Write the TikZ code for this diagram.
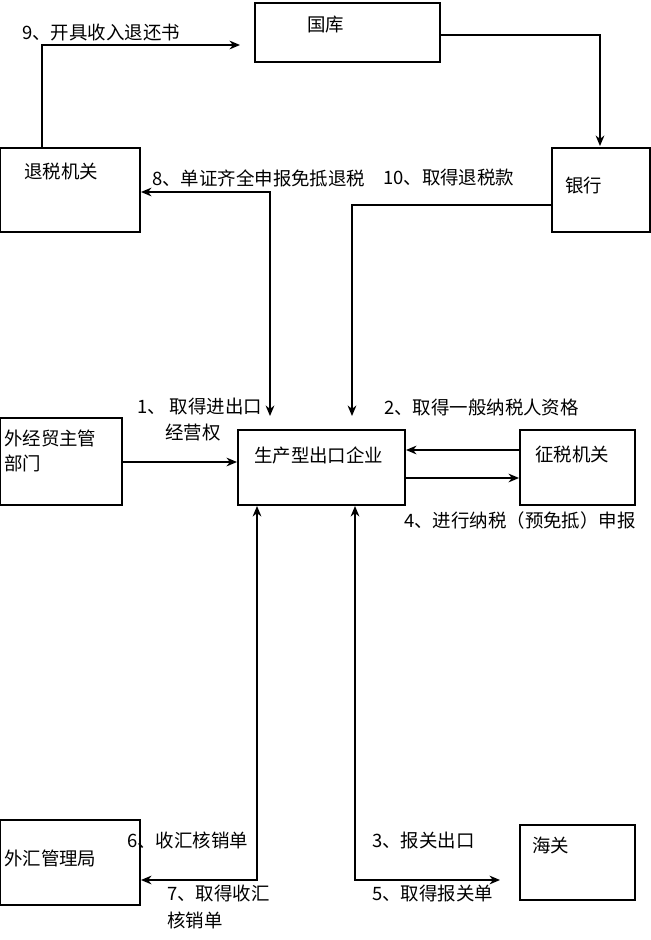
\documentclass[tikz,border=0pt]{standalone}
\usepackage{fontspec}
\setmainfont{Noto Sans CJK SC}
\usetikzlibrary{arrows.meta}
\begin{document}
\begin{tikzpicture}[x=0.02cm,y=-0.02cm,font=\fontsize{10.5}{14}\selectfont,
	box/.style={draw,line width=0.8pt},
	flow/.style={draw,line width=0.8pt,-{Stealth[length=6pt,width=5pt]}},
	both/.style={flow,{Stealth[length=6pt,width=5pt]}-{Stealth[length=6pt,width=5pt]}},
	txt/.style={inner sep=1pt,anchor=west}]
	\useasboundingbox (0,0) rectangle (650,940);
	% boxes
	\draw[box] (255,3) rectangle (440,62);
	\node[txt] (guoku) at (305,25) {国库};
	\draw[box] (0,148) rectangle (140,232);
	\node[txt] (tuishui) at (22,172) {退税机关};
	\draw[box] (552,148) rectangle (650,232);
	\node[txt] (yinhang) at (563,186) {银行};
	\draw[box] (0,418) rectangle (122,505);
	\node[txt,align=left,anchor=north west] (waijing) at (2,428) {外经贸主管\\部门};
	\draw[box] (238,430) rectangle (405,505);
	\node[txt] (qiye) at (252,455) {生产型出口企业};
	\draw[box] (520,430) rectangle (635,505);
	\node[txt] (zhengshui) at (533,455) {征税机关};
	\draw[box] (0,820) rectangle (140,905);
	\node[txt] (waihui) at (2,858) {外汇管理局};
	\draw[box] (520,825) rectangle (635,900);
	\node[txt] (haiguan) at (530,845) {海关};
	% connectors
	\coordinate (a1) at (42,148);
	\coordinate (a2) at (240,45);
	\draw[flow] (a1) |- (a2);
	\coordinate (b1) at (440,35);
	\coordinate (b2) at (600,146);
	\draw[flow] (b1) -| (b2);
	\coordinate (c1) at (552,205);
	\coordinate (c2) at (352,416);
	\draw[flow] (c1) -| (c2);
	\coordinate (d1) at (141,192);
	\coordinate (d2) at (270,416);
	\draw[both] (d1) -| (d2);
	\coordinate (e1) at (122,462);
	\coordinate (e2) at (237,462);
	\draw[flow] (e1) -- (e2);
	\coordinate (f1) at (520,450);
	\coordinate (f2) at (406,450);
	\draw[flow] (f1) -- (f2);
	\coordinate (g1) at (405,478);
	\coordinate (g2) at (519,478);
	\draw[flow] (g1) -- (g2);
	\coordinate (h1) at (257,506);
	\coordinate (h2) at (141,880);
	\draw[both] (h1) |- (h2);
	\coordinate (i1) at (355,506);
	\coordinate (i2) at (500,880);
	\draw[both] (i1) |- (i2);
	% labels
	\node[txt] (l9) at (20,33) {9、开具收入退还书};
	\node[txt] (l8) at (150,178) {8、单证齐全申报免抵退税};
	\node[txt] (l10) at (381,178) {10、取得退税款};
	\node[txt] (l1) at (135,407) {1、 取得进出口};
	\node[txt] (l1b) at (163,433) {经营权};
	\node[txt] (l2) at (382,407) {2、取得一般纳税人资格};
	\node[txt] (l4) at (402,520) {4、进行纳税（预免抵）申报};
	\node[txt] (l6) at (125,840) {6、收汇核销单};
	\node[txt] (l7) at (165,893) {7、取得收汇};
	\node[txt] (l7b) at (165,920) {核销单};
	\node[txt] (l3) at (370,840) {3、报关出口};
	\node[txt] (l5) at (370,893) {5、取得报关单};
\end{tikzpicture}
\end{document}
